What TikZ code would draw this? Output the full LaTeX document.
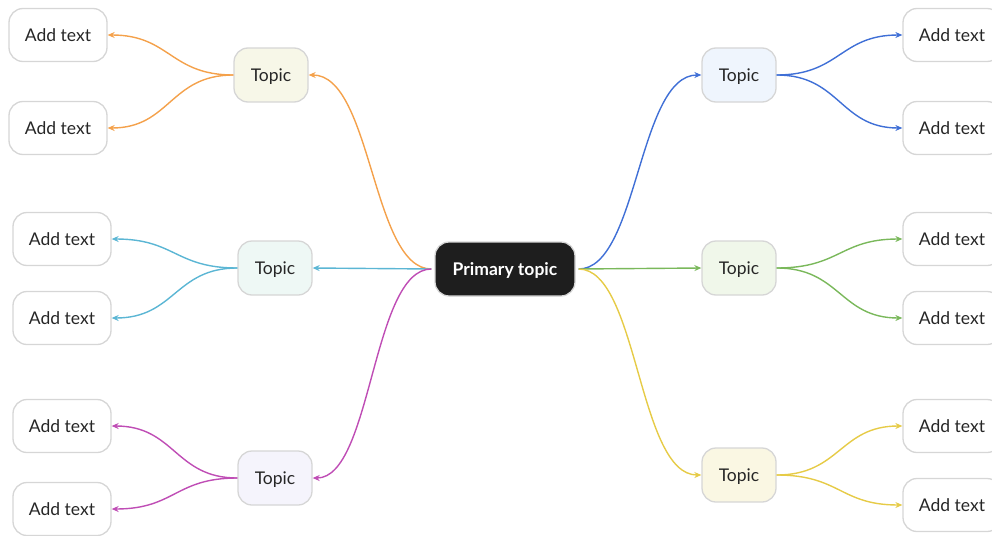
\documentclass[tikz,border=0pt]{standalone}
\usepackage{fontspec}
\setmainfont{Lato}
\usetikzlibrary{arrows.meta}
\definecolor{cOrange}{HTML}{F4A14B}
\definecolor{cTeal}{HTML}{5BB6D4}
\definecolor{cMagenta}{HTML}{BF4DB5}
\definecolor{cBlue}{HTML}{3F6FD6}
\definecolor{cGreen}{HTML}{7AB85B}
\definecolor{cYellow}{HTML}{E6CB47}
\definecolor{boxline}{HTML}{D6D6D6}
\definecolor{fOrange}{HTML}{F7F7E8}
\definecolor{fTeal}{HTML}{EEF8F5}
\definecolor{fMagenta}{HTML}{F5F4FC}
\definecolor{fBlue}{HTML}{EFF5FD}
\definecolor{fGreen}{HTML}{F0F7EA}
\definecolor{fYellow}{HTML}{FAF7E3}
\definecolor{dark}{HTML}{1E1E1E}
\tikzset{
  boxbase/.style={draw=boxline, line width=1.3pt, rounded corners=14pt, inner sep=0pt,
    text height=12.3pt, text depth=0pt, font=\fontsize{17.5}{20}\selectfont},
  leafbox/.style={boxbase, fill=white, minimum width=98pt, minimum height=53pt, text=black!85},
  topicbox/.style={boxbase, minimum width=74pt, minimum height=54pt, text=black!85},
  rootbox/.style={boxbase, fill=dark, minimum width=140pt, minimum height=54pt,
    font=\fontsize{17.5}{20}\selectfont\bfseries, text=white},
  link/.style={line width=1.4pt, -{Stealth[length=7pt,width=6pt]}},
}
\begin{document}
\begin{tikzpicture}[x=1pt,y=-1pt]
\useasboundingbox (0,0) rectangle (992,535);

% central node
\node[rootbox] (root) at (505,269) {Primary topic};

% topics
\node[topicbox, fill=fOrange]  (tl) at (271,75)  {Topic};
\node[topicbox, fill=fTeal]    (ml) at (275,268) {Topic};
\node[topicbox, fill=fMagenta] (bl) at (275,478) {Topic};
\node[topicbox, fill=fBlue]    (tr) at (739,75)  {Topic};
\node[topicbox, fill=fGreen]   (mr) at (739,268) {Topic};
\node[topicbox, fill=fYellow]  (br) at (739,475) {Topic};

% leaves
\node[leafbox] (tl1) at (58,35)  {Add text};
\node[leafbox] (tl2) at (58,128) {Add text};
\node[leafbox] (ml1) at (62,239) {Add text};
\node[leafbox] (ml2) at (62,318) {Add text};
\node[leafbox] (bl1) at (62,426) {Add text};
\node[leafbox] (bl2) at (62,509) {Add text};
\node[leafbox] (tr1) at (952,35)  {Add text};
\node[leafbox] (tr2) at (952,128) {Add text};
\node[leafbox] (mr1) at (952,239) {Add text};
\node[leafbox] (mr2) at (952,318) {Add text};
\node[leafbox] (br1) at (952,426) {Add text};
\node[leafbox] (br2) at (952,505) {Add text};

% connection points at the sides of the central node
\coordinate (rl) at ([xshift=-3pt]root.west);
\coordinate (rr) at ([xshift=3pt]root.east);

% root to topics
\draw[link, cOrange]  (rl) .. controls (372,269) and (372,75) .. (tl.east);
\draw[link, cTeal]    (rl) -- (ml.east);
\draw[link, cMagenta] (rl) .. controls (372,269) and (372,478) .. (bl.east);
\draw[link, cBlue]    (rr) .. controls (638,269) and (638,75) .. (tr.west);
\draw[link, cGreen]   (rr) -- (mr.west);
\draw[link, cYellow]  (rr) .. controls (638,269) and (638,475) .. (br.west);

% topics to leaves
\draw[link, cOrange]  (tl.west) .. controls (170,75) and (170,35) .. (tl1.east);
\draw[link, cOrange]  (tl.west) .. controls (170,75) and (170,128) .. (tl2.east);
\draw[link, cTeal]    (ml.west) .. controls (175,268) and (175,239) .. (ml1.east);
\draw[link, cTeal]    (ml.west) .. controls (175,268) and (175,318) .. (ml2.east);
\draw[link, cMagenta] (bl.west) .. controls (175,478) and (175,426) .. (bl1.east);
\draw[link, cMagenta] (bl.west) .. controls (175,478) and (175,509) .. (bl2.east);
\draw[link, cBlue]    (tr.east) .. controls (840,75) and (840,35) .. (tr1.west);
\draw[link, cBlue]    (tr.east) .. controls (840,75) and (840,128) .. (tr2.west);
\draw[link, cGreen]   (mr.east) .. controls (840,268) and (840,239) .. (mr1.west);
\draw[link, cGreen]   (mr.east) .. controls (840,268) and (840,318) .. (mr2.west);
\draw[link, cYellow]  (br.east) .. controls (840,475) and (840,426) .. (br1.west);
\draw[link, cYellow]  (br.east) .. controls (840,475) and (840,505) .. (br2.west);
\end{tikzpicture}
\end{document}
